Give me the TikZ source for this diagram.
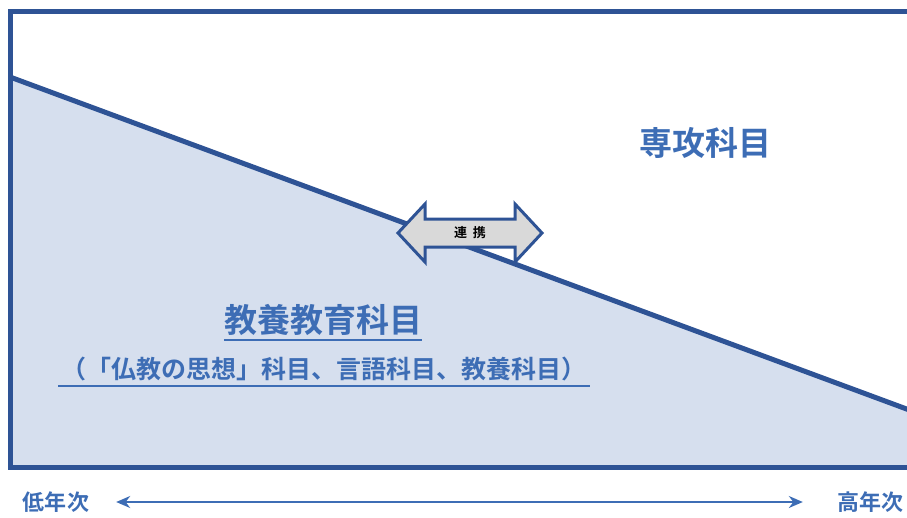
\documentclass[tikz,border=0pt]{standalone}
\usepackage{fontspec}
\newfontfamily\cjk{Noto Sans CJK JP Bold}
\usetikzlibrary{arrows.meta}
\definecolor{framblue}{HTML}{2E5395}
\definecolor{txtblue}{HTML}{3D6DB5}
\definecolor{areablue}{HTML}{D6DFEE}
\definecolor{arrgray}{HTML}{D9D9D9}
\tikzset{
  label txt/.style={text=txtblue, inner sep=0pt},
  big txt/.style={label txt, font=\cjk\fontsize{33}{37}\selectfont},
  mid txt/.style={label txt, font=\cjk\fontsize{25}{29}\selectfont},
  small txt/.style={label txt, font=\cjk\fontsize{22}{26}\selectfont},
  ulin/.style={draw=txtblue, line width=1.8pt}
}
\begin{document}
\begin{tikzpicture}[x=1pt,y=-1pt]
                        \useasboundingbox (0,0) rectangle (907,517);
                        \clip (0,0) rectangle (907,517);
                        \fill [areablue] (10,77) -- (912,411) -- (912,467) -- (10,467) -- cycle;
                        \draw [framblue, line width=5pt] (10,77) -- (912,411);
                        \draw [framblue, line width=5pt] (915,11) -- (10,11) -- (10,467) -- (915,467);
                        \coordinate (renkei) at (470,233);
                        \draw [framblue, line width=3pt, fill=arrgray, line join=miter]
                            (renkei) ++(-72,0) -- ++(27,-29) -- ++(0,15) -- ++(90,0) -- ++(0,-15)
                            -- ++(27,29) -- ++(-27,29) -- ++(0,-15) -- ++(-90,0) -- ++(0,15) -- cycle;
                        \node [font=\cjk\fontsize{13}{15}\selectfont] (rk) at (renkei) {連\hspace{6pt}携};
                        \node [big txt] (senko) at (705,143) {専攻科目};
                        \node [big txt] (kyoyo) at (323,320) {教養教育科目};
                        \draw [ulin] (kyoyo.south west) ++(0,4) coordinate (k1) -- (k1 -| kyoyo.south east);
                        \node [mid txt] (kamoku) at (324,369) {（「仏教の思想」科目、言語科目、教養科目）};
                        \draw [ulin] (kamoku.south west) ++(-3,5) coordinate (k2) -- ([xshift=3pt]k2 -| kamoku.south east);
                        \node [small txt] (low) at (56,502) {低年次};
                        \node [small txt] (high) at (870,502) {高年次};
                        \draw [txtblue, line width=1.8pt, {Stealth[length=14pt,width=12pt]}-{Stealth[length=14pt,width=12pt]},
                            shorten <=27pt, shorten >=34pt] (low) -- (high);
                    \end{tikzpicture}
\end{document}
